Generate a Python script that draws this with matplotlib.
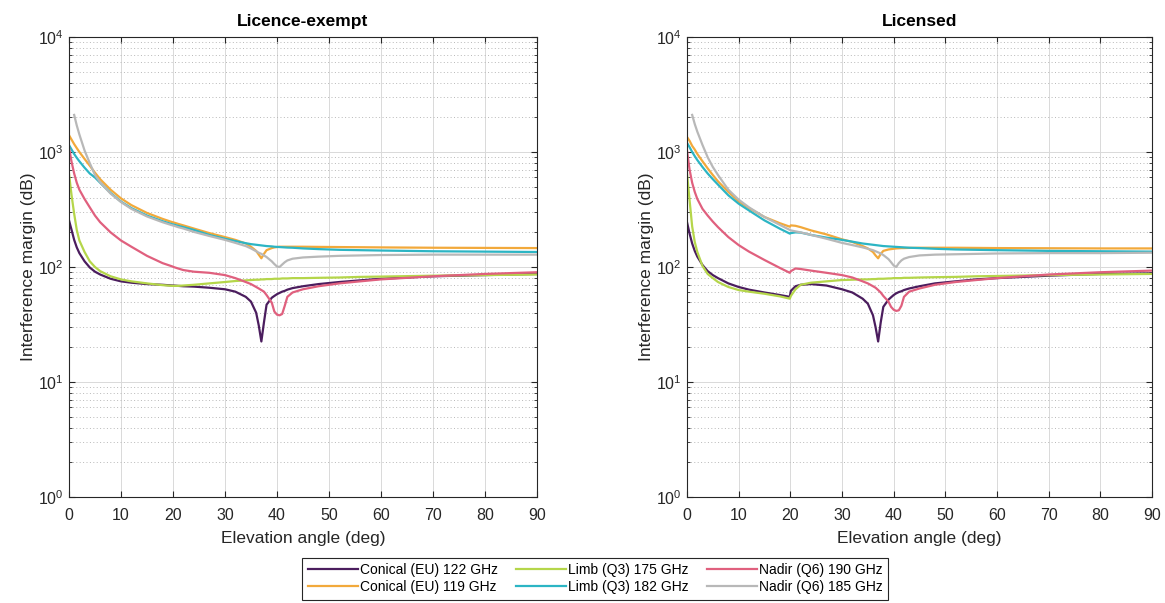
import numpy as np
import matplotlib
matplotlib.use("Agg")
import matplotlib.pyplot as plt
from matplotlib.ticker import LogLocator, NullFormatter

plt.rcParams['font.family'] = ['Liberation Sans', 'DejaVu Sans']
plt.rcParams['mathtext.fontset'] = 'custom'
plt.rcParams['mathtext.rm'] = 'Liberation Sans'
plt.rcParams['mathtext.it'] = 'Liberation Sans:italic'
plt.rcParams['mathtext.bf'] = 'Liberation Sans:bold'

nan = np.nan

# elevation angles (deg) shared by every series
ANGLE = [0, 0.5, 1, 1.5, 2, 3, 4, 5, 6, 8, 10, 12, 15, 18, 19.9, 20.1, 21, 22, 24, 27,
         30, 32, 34, 35, 36, 36.5, 37, 37.5, 38, 39, 39.5, 40, 40.5, 41, 41.5, 42, 43,
         45, 48, 52, 56, 60, 70, 80, 90]

LABELS = ["Conical (EU) 122 GHz", "Conical (EU) 119 GHz", "Limb (Q3) 175 GHz",
          "Limb (Q3) 182 GHz", "Nadir (Q6) 190 GHz", "Nadir (Q6) 185 GHz"]
COLORS = ["#4b1d5e", "#f2a93b", "#b5d64a", "#2cb5c4", "#e0607e", "#b8b8b8"]

# ---- Licence-exempt ----
exempt_c122 = [255, 210, 172, 148, 132, 112, 99, 91, 86, 79, 75, 73, 71, 70, 69, 69, 68.5, 68, 67.5, 66,
               64, 61, 55, 50, 40, 31, 22.5, 33, 47, 54, 56, 58, 59.5, 61, 62, 63.5, 65.5,
               68, 71, 74, 76.5, 79, 83, 85, 87]
exempt_c119 = [1400, 1280, 1170, 1080, 1000, 870, 760, 660, 580, 470, 395, 345, 295, 262, 245, 244, 237, 230, 216, 197,
               182, 172, 160, 150, 138, 128, 119, 130, 140, 146, 148, 149, 150, 150, 150, 150, 150,
               150, 149.5, 149, 148.5, 148, 147, 146.5, 146]
exempt_l175 = [650, 420, 290, 210, 170, 135, 112, 100, 92, 83, 78, 75, 72, 69.5, 68.5, 68.5, 68.5, 69, 70, 72,
               74, 75.5, 76.5, 77, 77.5, 77.5, 78, 78, 78.5, 78.5, 79, 79, 79, 79.5, 79.5, 79.5, 80,
               80, 80.5, 81, 82, 82.5, 84, 85, 86]
exempt_l182 = [1150, 1050, 960, 890, 830, 730, 650, 600, 540, 440, 370, 325, 280, 250, 235, 234, 228, 222, 210, 190,
               176, 168, 161, 158, 156, 155, 154, 153, 152, 151, 150, 149.5, 149, 148.5, 148, 147.5, 147,
               145, 143, 141, 140, 139, 137, 136, 135]
exempt_n190 = [1100, 820, 650, 540, 470, 390, 330, 280, 245, 200, 170, 150, 125, 108, 101, 100, 97, 94, 91, 89,
               85, 80, 74, 71, 67, 65, 63, 61, 57, 49, 41, 38.5, 38, 39, 46, 55, 60,
               64, 68, 72, 75, 78, 83, 87, 90]
exempt_n185 = [nan, nan, 2100, 1700, 1420, 1030, 800, 630, 545, 435, 367, 320, 275, 245, 230, 229, 222, 216, 202, 186,
               172, 162, 152, 145, 137, 133, 130, 126, 122, 112, 106, 101, 100, 105, 110, 114, 118,
               121, 123, 125, 126, 127, 128, 128, 128]

# ---- Licensed ----
lic_c122 = [245, 195, 160, 138, 123, 104, 92, 85, 80, 72, 67, 63.5, 60, 57, 55, 62, 68, 70, 71, 69,
            64, 60, 53, 48, 38, 30, 22.5, 33, 45, 52, 54.5, 57, 59, 60.5, 61.5, 63, 65,
            68, 72, 75, 78, 80, 84, 87, 88]
lic_c119 = [1350, 1250, 1130, 1050, 960, 830, 720, 630, 555, 450, 372, 325, 272, 240, 224, 230, 228, 222, 208, 192,
            174, 165, 152, 145, 135, 126, 119, 130, 138, 142, 143, 144, 145, 145.5, 146, 146, 146.5,
            147, 147, 147, 146.5, 146, 145.5, 145, 145]
lic_l175 = [650, 380, 225, 165, 135, 102, 87, 80, 74, 67, 63, 61, 58.5, 55.5, 53, 56, 64, 70, 73, 75,
            77, 77.5, 78, 78, 78.5, 78.5, 79, 79, 79, 79.5, 79.5, 80, 80, 80, 80, 80.5, 80.5,
            81, 81.5, 82, 83, 83.5, 85, 86, 87]
lic_l182 = [1200, 1100, 1000, 920, 850, 740, 650, 580, 520, 420, 355, 310, 254, 215, 195, 197, 200, 199, 190, 180,
            172, 166, 160, 158, 156, 155, 154, 153, 152, 151, 150.5, 150, 149.5, 149, 148.5, 148, 147,
            146, 144, 142, 141, 140, 138, 137, 136]
lic_n190 = [1030, 700, 540, 450, 390, 320, 280, 248, 222, 182, 155, 136, 115, 98, 89, 92, 97, 96, 93, 89,
            85, 81, 75, 72, 68, 66, 63, 60, 56, 50, 45, 42.5, 41.5, 42, 46, 55, 61,
            65, 70, 74, 77, 80, 86, 90, 93]
lic_n185 = [nan, nan, 2100, 1750, 1500, 1150, 900, 740, 630, 470, 385, 330, 272, 232, 210, 208, 204, 200, 190, 176,
            162, 155, 148, 144, 140, 137, 134, 131, 127, 117, 110, 103, 100, 108, 114, 118, 122,
            126, 128, 129, 130, 131, 132, 132, 133]

EXEMPT = [exempt_c122, exempt_c119, exempt_l175, exempt_l182, exempt_n190, exempt_n185]
LICENSED = [lic_c122, lic_c119, lic_l175, lic_l182, lic_n190, lic_n185]
TITLES = ["Licence-exempt", "Licensed"]

fig = plt.figure(figsize=(11.65, 6.03), dpi=100)
ax1 = fig.add_axes([0.0592, 0.1758, 0.4017, 0.7629])
ax2 = fig.add_axes([0.5897, 0.1758, 0.3991, 0.7629])

handles = []
for ax, series, title in zip([ax1, ax2], [EXEMPT, LICENSED], TITLES):
    lines = []
    for vals, col, lab in zip(series, COLORS, LABELS):
        ln, = ax.plot(ANGLE, vals, color=col, lw=1.6, label=lab)
        lines.append(ln)
    handles = lines
    ax.set_yscale('log')
    ax.set_xlim(0, 90)
    ax.set_ylim(1, 1e4)
    ax.set_xticks(range(0, 91, 10))
    ax.yaxis.set_major_locator(LogLocator(base=10, numticks=10))
    ax.yaxis.set_minor_locator(LogLocator(base=10, subs=np.arange(2, 10), numticks=10))
    ax.yaxis.set_minor_formatter(NullFormatter())
    ax.grid(which='major', color='#d9d9d9', lw=0.7, ls='-')
    ax.grid(which='minor', axis='y', color='#b8b8b8', lw=0.7, ls=(0, (1, 2.5)))
    ax.set_axisbelow(True)
    ax.tick_params(which='both', direction='in', top=True, right=True, labelsize=11.5,
                   colors='#262626', labelcolor='#262626')
    ax.tick_params(which='major', length=4)
    ax.tick_params(which='minor', length=2)
    ax.tick_params(axis='x', which='major', pad=8)
    ax.tick_params(axis='y', which='major', pad=4)
    for sp in ax.spines.values():
        sp.set_color('#262626')
        sp.set_linewidth(0.8)
    ax.set_title(title, fontsize=12.5, fontweight='bold', pad=8)
    ax.set_xlabel('Elevation angle (deg)', fontsize=12.5, color='#262626', labelpad=6)
    ax.set_ylabel('Interference margin (dB)', fontsize=12.5, color='#262626', labelpad=1)

# legend sits just above the lower edge of the figure
leg = fig.legend(handles, LABELS, ncol=3, loc='upper center',
                 bbox_to_anchor=(0.5107, 0.075), fontsize=10, frameon=True, fancybox=False,
                 edgecolor='#262626', framealpha=1, handlelength=3.6, handletextpad=0.15,
                 columnspacing=1.3, labelspacing=0.2, borderpad=0.4, borderaxespad=0)
leg.get_frame().set_linewidth(0.8)

fig.savefig('out.png', dpi=100)
